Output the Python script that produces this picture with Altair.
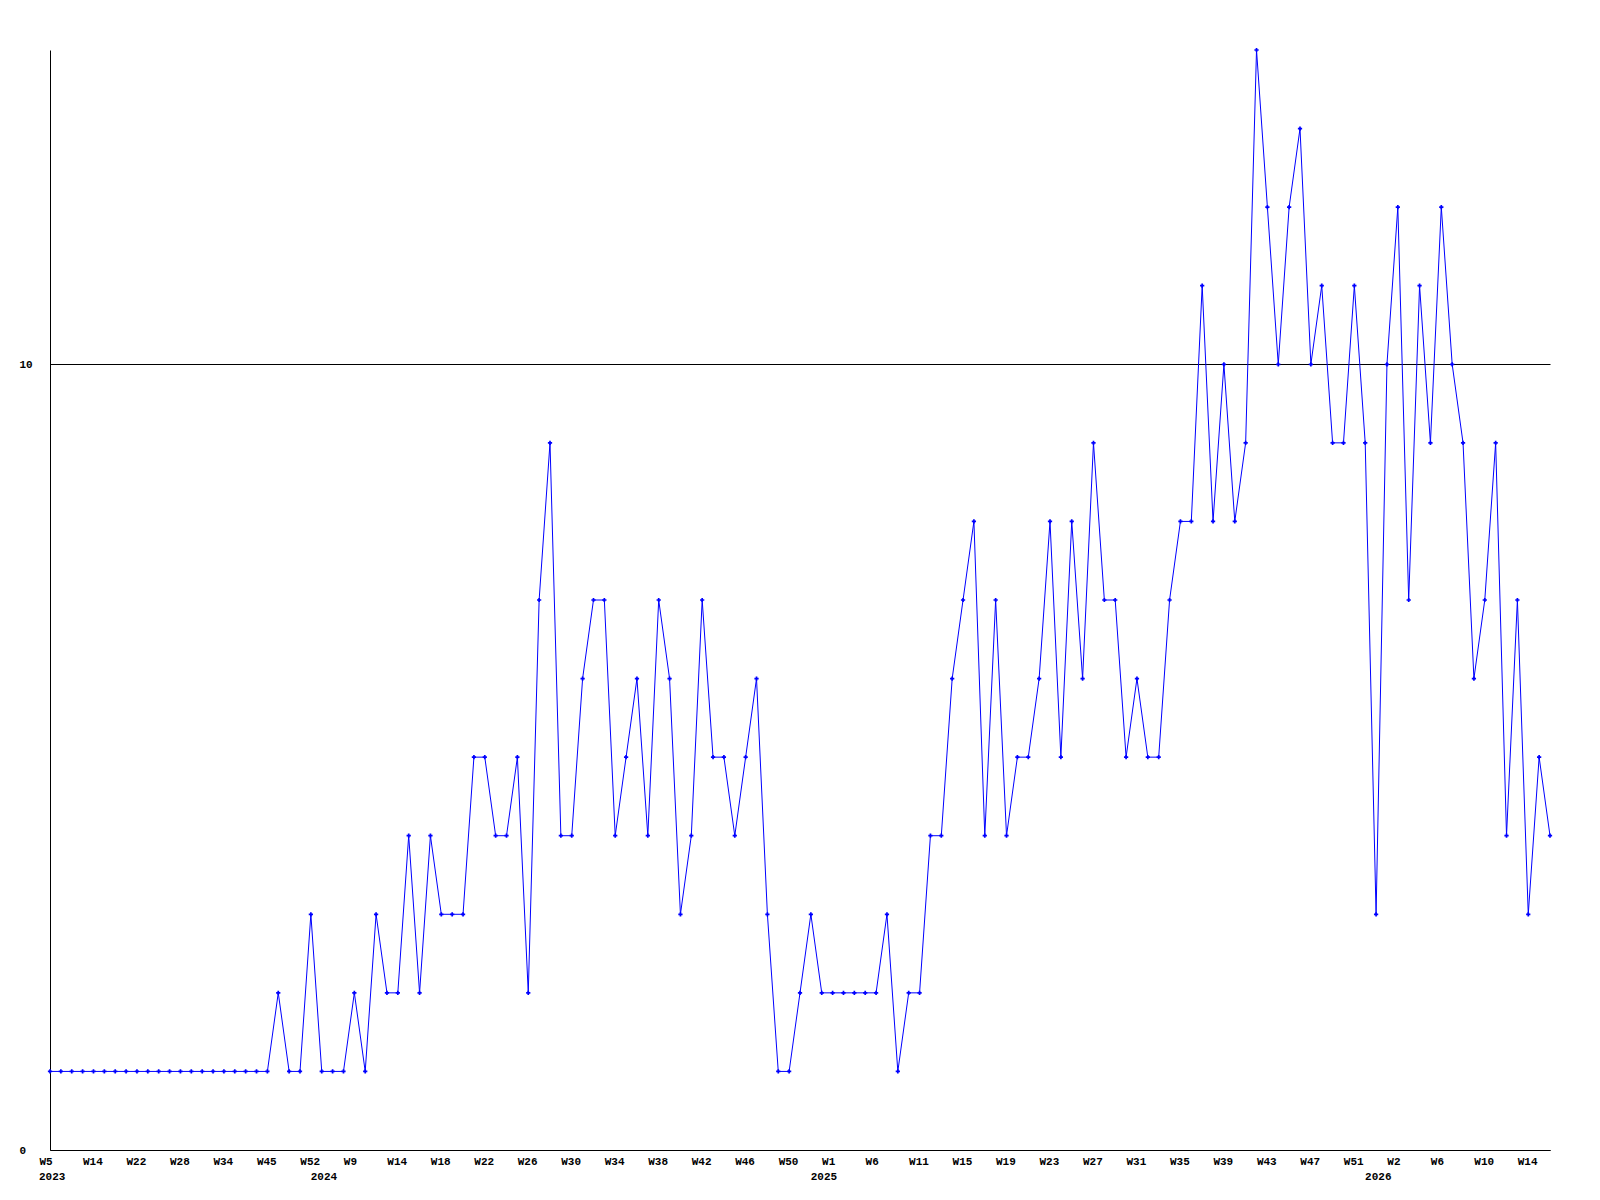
import json
import altair as alt
import pandas as pd

# values, one per point (139 points)
values = [
    1, 1, 1, 1, 1, 1, 1, 1, 1, 1, 1, 1, 1, 1, 1, 1, 1, 1, 1, 1, 1,
    2, 1, 1, 3, 1, 1, 1, 2, 1, 3, 2, 2, 4, 2, 4, 3, 3, 3, 5, 5,
    4, 4, 5, 2, 7, 9, 4, 4, 6, 7, 7, 4, 5, 6, 4, 7, 6, 3, 4, 7,
    5, 5, 4, 5, 6, 3, 1, 1, 2, 3, 2, 2, 2, 2, 2, 2, 3, 1, 2, 2,
    4, 4, 6, 7, 8, 4, 7, 4, 5, 5, 6, 8, 5, 8, 6, 9, 7, 7, 5, 6,
    5, 5, 7, 8, 8, 11, 8, 10, 8, 9, 14, 12, 10, 12, 13, 10, 11, 9, 9, 11,
    9, 3, 10, 12, 7, 11, 9, 12, 10, 9, 6, 7, 9, 4, 7, 3, 5, 4,
]

# week labels shown under every 4th point
week_labels = [
    "W5", "W14", "W22", "W28", "W34", "W45", "W52", "W9", "W14", "W18",
    "W22", "W26", "W30", "W34", "W38", "W42", "W46", "W50", "W1", "W6",
    "W11", "W15", "W19", "W23", "W27", "W31", "W35", "W39", "W43", "W47",
    "W51", "W2", "W6", "W10", "W14",
]
label_step = 4

# year labels and the point index where each year starts
years = ["2023", "2024", "2025", "2026"]
year_start_idx = [0, 25, 71, 122]

y_ticks = [0, 10]
y_max = 14

FONT = "Liberation Mono"
BLUE = "#0000ff"

df = pd.DataFrame({"idx": list(range(len(values))), "value": values})
years_df = pd.DataFrame({"idx": year_start_idx, "year": years})

n_last = len(values) - 1
tick_vals = list(range(0, n_last + 1, label_step))
label_expr = json.dumps(week_labels) + "[round(datum.value / " + str(label_step) + ")]"

x_scale = alt.Scale(domain=[0, n_last], nice=False, zero=False)
y_scale = alt.Scale(domain=[0, y_max], nice=False)

x_axis = alt.Axis(
    values=tick_vals,
    labelExpr=label_expr,
    title=None,
    grid=False,
    ticks=False,
    tickSize=0,
    domainColor="#000000",
    domainWidth=1,
    labelFont=FONT,
    labelFontSize=11,
    labelFontWeight="bold",
    labelColor="#000000",
    labelAlign="left",
    labelOffset=-11,
    labelPadding=5,
    labelOverlap=False,
    labelBound=False,
    labelFlush=False,
)

y_axis = alt.Axis(
    values=y_ticks,
    format="d",
    title=None,
    grid=True,
    gridColor="#000000",
    gridOpacity=1,
    gridWidth=1,
    ticks=False,
    tickSize=0,
    domainColor="#000000",
    domainWidth=1,
    labelFont=FONT,
    labelFontSize=11,
    labelFontWeight="bold",
    labelColor="#000000",
    labelAlign="left",
    labelPadding=31,
    labelBaseline="middle",
)

base = alt.Chart(df)

line = base.mark_line(color=BLUE, strokeWidth=1).encode(
    x=alt.X("idx:Q", scale=x_scale, axis=x_axis),
    y=alt.Y("value:Q", scale=y_scale, axis=y_axis),
)

points = base.mark_point(shape="cross", filled=True, size=18, color=BLUE, opacity=1).encode(
    x=alt.X("idx:Q", scale=x_scale),
    y=alt.Y("value:Q", scale=y_scale),
)

year_text = alt.Chart(years_df).mark_text(
    font=FONT, fontSize=11, fontWeight="bold", color="#000000",
    align="left", baseline="middle", dx=-11,
).encode(
    x=alt.X("idx:Q", scale=x_scale),
    y=alt.value(1127),
    text="year:N",
)

chart = alt.layer(line, points, year_text).properties(
    width=1500,
    height=1100,
    autosize=alt.AutoSizeParams(type="none"),
    padding={"left": 42, "top": 42, "right": 40, "bottom": 40},
    background="#ffffff",
).configure_view(stroke=None)

chart.save("out.html", embed_options={"renderer": "svg", "actions": False})
